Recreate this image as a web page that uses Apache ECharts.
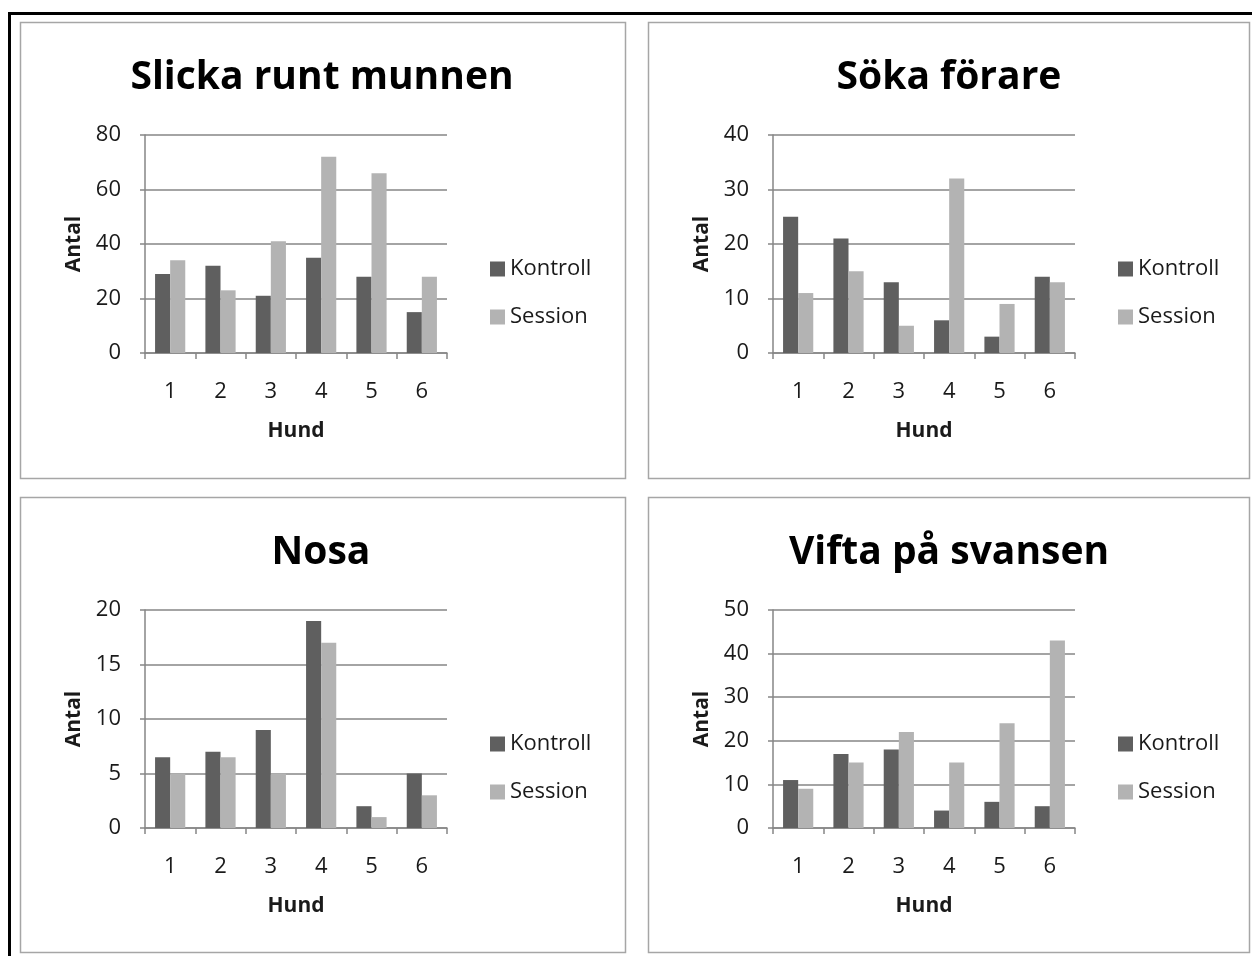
<!DOCTYPE html>
<html>
<head>
<meta charset="utf-8">
<script src="https://cdn.jsdelivr.net/npm/echarts@6/dist/echarts.min.js"></script>
<style>
html,body{margin:0;padding:0;background:#fff;}
#chart{width:1252px;height:956px;}
</style>
</head>
<body>
<div id="chart"></div>
<script>
// ---- data ----
const categories = ['1', '2', '3', '4', '5', '6'];
const seriesNames = ['Kontroll', 'Session'];
const panelTitles = ['Slicka runt munnen', 'Söka förare', 'Nosa', 'Vifta på svansen'];
const xAxisName = 'Hund';
const yAxisName = 'Antal';

const slickaKontroll = [29, 32, 21, 35, 28, 15];
const slickaSession  = [34, 23, 41, 72, 66, 28];
const sokaKontroll   = [25, 21, 13, 6, 3, 14];
const sokaSession    = [11, 15, 5, 32, 9, 13];
const nosaKontroll   = [6.5, 7, 9, 19, 2, 5];
const nosaSession    = [5, 6.5, 5, 17, 1, 3];
const viftaKontroll  = [11, 17, 18, 4, 6, 5];
const viftaSession   = [9, 15, 22, 15, 24, 43];

const yMax      = [80, 40, 20, 50];
const yInterval = [20, 10, 5, 10];

// ---- layout / style ----
const FONT = '"Open Sans", sans-serif';
const colors = ['#5f5f5f', '#b3b3b3'];
const gridLine = '#868686';
const textColor = '#1a1a1a';
const panels = [
  {grid: {left: 145, top: 135, width: 302, height: 218}, titleX: 322, titleY: 58, legendX: 490, legendY: 257, k: slickaKontroll, s: slickaSession},
  {grid: {left: 773, top: 135, width: 302, height: 218}, titleX: 949, titleY: 58, legendX: 1118, legendY: 257, k: sokaKontroll, s: sokaSession},
  {grid: {left: 145, top: 610, width: 302, height: 218}, titleX: 321, titleY: 533, legendX: 490, legendY: 732, k: nosaKontroll, s: nosaSession},
  {grid: {left: 773, top: 610, width: 302, height: 218}, titleX: 949, titleY: 533, legendX: 1118, legendY: 732, k: viftaKontroll, s: viftaSession}
];

const option = {
  animation: false,
  backgroundColor: '#fff',
  textStyle: {fontFamily: FONT},
  title: panels.map((p, i) => ({
    text: panelTitles[i], left: p.titleX, top: p.titleY, textAlign: 'center', padding: 0,
    textStyle: {fontFamily: FONT, fontSize: 39, fontWeight: 'bold', color: '#000'}
  })),
  legend: panels.map((p) => ({
    data: seriesNames, orient: 'vertical', left: p.legendX, top: p.legendY, padding: 0,
    icon: 'rect', itemWidth: 15, itemHeight: 15, itemGap: 24,
    textStyle: {fontFamily: FONT, fontSize: 22, color: textColor, lineHeight: 24}
  })),
  grid: panels.map(p => Object.assign({containLabel: false}, p.grid)),
  xAxis: panels.map((p, i) => ({
    type: 'category', gridIndex: i, data: categories,
    name: xAxisName, nameLocation: 'middle', nameGap: 68,
    nameTextStyle: {fontFamily: FONT, fontSize: 21, fontWeight: 'bold', color: textColor},
    axisLine: {show: true, lineStyle: {color: gridLine, width: 1.5}},
    axisTick: {show: true, alignWithLabel: false, length: 6, lineStyle: {color: gridLine, width: 1.5}},
    axisLabel: {fontFamily: FONT, fontSize: 22, color: textColor, margin: 28},
    splitLine: {show: false}
  })),
  yAxis: panels.map((p, i) => ({
    type: 'value', gridIndex: i, min: 0, max: yMax[i], interval: yInterval[i],
    name: yAxisName, nameLocation: 'middle', nameGap: 60, nameRotate: 90,
    nameTextStyle: {fontFamily: FONT, fontSize: 21, fontWeight: 'bold', color: textColor},
    axisLine: {show: true, lineStyle: {color: gridLine, width: 1.5}},
    axisTick: {show: true, length: 5, lineStyle: {color: gridLine, width: 1.5}},
    axisLabel: {fontFamily: FONT, fontSize: 22, color: textColor, margin: 24},
    splitLine: {show: true, lineStyle: {color: gridLine, width: 1.5}}
  })),
  series: [],
  graphic: [
    {type: 'rect', shape: {x: 9.5, y: 13.5, width: 1300, height: 1000}, style: {fill: null, stroke: '#000', lineWidth: 3}, z: 100},
    {type: 'rect', shape: {x: 20.5, y: 22.5, width: 605, height: 456}, style: {fill: null, stroke: '#a6a6a6', lineWidth: 1.5}, z: 100},
    {type: 'rect', shape: {x: 648.5, y: 22.5, width: 601, height: 456}, style: {fill: null, stroke: '#a6a6a6', lineWidth: 1.5}, z: 100},
    {type: 'rect', shape: {x: 20.5, y: 497.5, width: 605, height: 455}, style: {fill: null, stroke: '#a6a6a6', lineWidth: 1.5}, z: 100},
    {type: 'rect', shape: {x: 648.5, y: 497.5, width: 601, height: 455}, style: {fill: null, stroke: '#a6a6a6', lineWidth: 1.5}, z: 100}
  ]
};

panels.forEach((p, i) => {
  [p.k, p.s].forEach((vals, j) => {
    option.series.push({
      type: 'bar', name: seriesNames[j], xAxisIndex: i, yAxisIndex: i,
      data: vals, barGap: '0%', barCategoryGap: '40%',
      itemStyle: {color: colors[j]}, z: 3
    });
  });
});

const chart = echarts.init(document.getElementById('chart'), null, {renderer: 'canvas'});
chart.setOption(option);
</script>
</body>
</html>
